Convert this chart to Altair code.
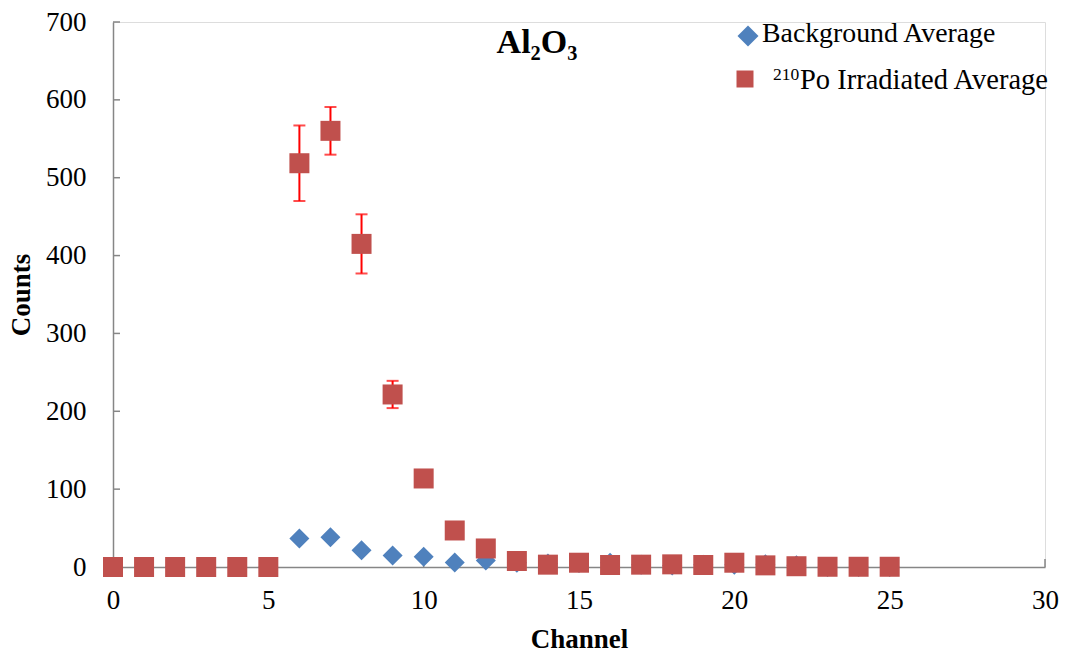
import altair as alt
import pandas as pd

# Channel numbers and averaged counts for each series
channels = list(range(26))
background_avg = [0, 0, 0, 0, 0, 0, 36.6, 38.3, 21.6, 14.8, 13.1, 5.8, 8.3, 5.4,
                  4.5, 5.0, 5.4, 3.0, 2.0, 3.0, 3.0, 3.6, 2.3, 0, 0, 0]
irradiated_avg = [0, 0, 0, 0, 0, 0, 518.6, 560.2, 415.0, 221.6, 113.7, 46.9, 23.8, 7.7,
                  3.0, 5.5, 2.6, 3.0, 3.4, 2.6, 5.5, 2.1, 1.0, 0.3, 0.3, 0.3]
irradiated_err = [0, 0, 0, 0, 0, 0, 48.5, 30.6, 38.0, 17.5, 0, 0, 0, 0,
                  0, 0, 0, 0, 0, 0, 0, 0, 0, 0, 0, 0]

series_names = ["Background Average", "Po Irradiated Average"]
series_colors = ["#4F81BD", "#C0504D"]
x_ticks = [0, 5, 10, 15, 20, 25, 30]
y_ticks = [0, 100, 200, 300, 400, 500, 600, 700]

FONT = "Liberation Serif"
AXIS_GREY = "#868686"

rows = []
for c, v in zip(channels, background_avg):
    rows.append({"Channel": c, "Counts": v, "Series": series_names[0]})
for c, v in zip(channels, irradiated_avg):
    rows.append({"Channel": c, "Counts": v, "Series": series_names[1]})
points_df = pd.DataFrame(rows)

err_df = pd.DataFrame({
    "Channel": channels,
    "lo": [v - e for v, e in zip(irradiated_avg, irradiated_err)],
    "hi": [v + e for v, e in zip(irradiated_avg, irradiated_err)],
    "err": irradiated_err,
})
err_df = err_df[err_df["err"] > 0]

x_scale = alt.Scale(domain=[0, 30], nice=False, zero=False)
y_scale = alt.Scale(domain=[0, 700], nice=False)

x_axis = alt.Axis(values=x_ticks, ticks=False, grid=False, domainColor=AXIS_GREY,
                  domainWidth=1.5, labelFont=FONT, labelFontSize=27, labelColor="black",
                  labelPadding=20, labelFlush=False, labelOverlap=False,
                  title="Channel", titleFont=FONT, titleFontSize=27,
                  titleFontWeight="bold", titlePadding=13, titleColor="black")
y_axis = alt.Axis(values=y_ticks, ticks=False, grid=False, domainColor=AXIS_GREY,
                  domainWidth=1.5, labelFont=FONT, labelFontSize=27, labelColor="black",
                  labelPadding=27, labelFlush=False, labelOverlap=False,
                  title="Counts", titleFont=FONT, titleFontSize=27,
                  titleFontWeight="bold", titlePadding=10, titleColor="black")

# Inward-pointing tick marks along both axes
xtick_layer = alt.Chart(pd.DataFrame({"t": x_ticks})).mark_rule(
    color=AXIS_GREY, strokeWidth=1.5
).encode(
    x=alt.X("t:Q", scale=x_scale, axis=x_axis),
    y=alt.value(545), y2=alt.value(537),
)
ytick_layer = alt.Chart(pd.DataFrame({"t": y_ticks})).mark_rule(
    color=AXIS_GREY, strokeWidth=1.5
).encode(
    y=alt.Y("t:Q", scale=y_scale, axis=y_axis),
    x=alt.value(0), x2=alt.value(7),
)

# Error bars (drawn beneath the markers)
err_rule = alt.Chart(err_df).mark_rule(color="#FF0000", strokeWidth=2).encode(
    x=alt.X("Channel:Q", scale=x_scale),
    y=alt.Y("lo:Q", scale=y_scale),
    y2="hi:Q",
)
err_cap_lo = alt.Chart(err_df).mark_tick(
    color="#FF0000", orient="horizontal", size=12, thickness=2
).encode(x=alt.X("Channel:Q", scale=x_scale), y=alt.Y("lo:Q", scale=y_scale))
err_cap_hi = alt.Chart(err_df).mark_tick(
    color="#FF0000", orient="horizontal", size=12, thickness=2
).encode(x=alt.X("Channel:Q", scale=x_scale), y=alt.Y("hi:Q", scale=y_scale))

series_color = alt.Color("Series:N", scale=alt.Scale(domain=series_names,
                                                     range=series_colors), legend=None)
series_shape = alt.Shape("Series:N", scale=alt.Scale(domain=series_names,
                                                     range=["diamond", "square"]),
                         legend=None)

points = alt.Chart(points_df).mark_point(filled=True, opacity=1, size=400).encode(
    x=alt.X("Channel:Q", scale=x_scale),
    y=alt.Y("Counts:Q", scale=y_scale),
    color=series_color,
    shape=series_shape,
    order=alt.Order("Series:N"),
)

# Legend block in the upper right corner
one = pd.DataFrame({"k": [0]})
key_diamond = alt.Chart(one).mark_point(
    shape="diamond", filled=True, opacity=1, size=441, color=series_colors[0]
).encode(x=alt.value(635), y=alt.value(14))
key_square = alt.Chart(one).mark_point(
    shape="square", filled=True, opacity=1, size=289, color=series_colors[1]
).encode(x=alt.value(632), y=alt.value(57))
key_text_bg = alt.Chart(one).mark_text(
    font=FONT, fontSize=27.8, color="black", align="left", baseline="alphabetic",
    text=series_names[0]
).encode(x=alt.value(649), y=alt.value(20))
key_text_sup = alt.Chart(one).mark_text(
    font=FONT, fontSize=17.5, color="black", align="left", baseline="alphabetic",
    text="210"
).encode(x=alt.value(660), y=alt.value(58))
key_text_po = alt.Chart(one).mark_text(
    font=FONT, fontSize=28.5, color="black", align="left", baseline="alphabetic",
    text=series_names[1]
).encode(x=alt.value(687), y=alt.value(67))

title_text = alt.Chart(one).mark_text(
    font=FONT, fontSize=34, fontWeight="bold", color="black", align="center",
    baseline="alphabetic", text="Al₂O₃"
).encode(x=alt.value(424), y=alt.value(31))

chart = alt.layer(
    xtick_layer, ytick_layer, err_rule, err_cap_lo, err_cap_hi, points,
    key_diamond, key_square, key_text_bg, key_text_sup, key_text_po, title_text
).properties(
    width=932, height=545,
    autosize=alt.AutoSizeParams(type="none"),
    padding={"left": 113, "top": 22, "right": 20, "bottom": 89},
).configure_view(stroke=None).configure(background="white")

chart.save("out.html", embed_options={"renderer": "svg", "actions": False})
